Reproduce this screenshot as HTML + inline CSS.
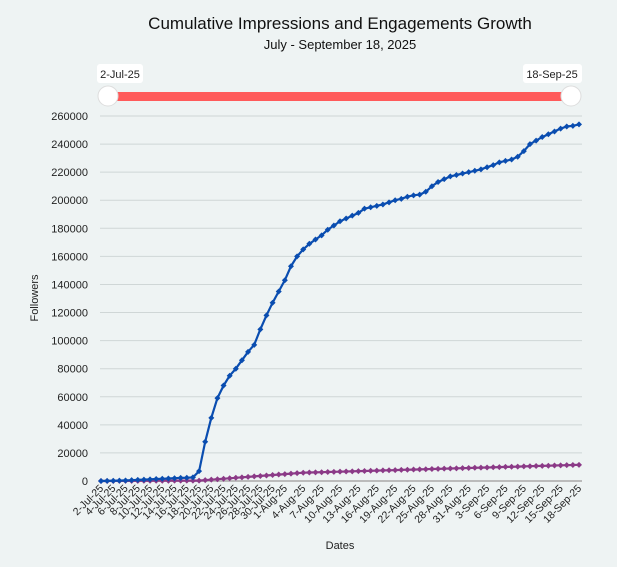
<!DOCTYPE html>
<html><head><meta charset="utf-8"><style>
body{margin:0;background:#eef3f3;font-family:"Liberation Sans",sans-serif;}
svg{display:block}
</style></head><body>
<svg id="s" width="617" height="567" xmlns="http://www.w3.org/2000/svg">
<rect width="617" height="567" fill="#eef3f3"/>
<text x="340" y="29" font-size="17" text-anchor="middle" fill="#111">Cumulative Impressions and Engagements Growth</text>
<text x="340" y="49" font-size="13" text-anchor="middle" fill="#111">July - September 18, 2025</text>
<rect x="97" y="64" width="46" height="19" rx="3" fill="#fff"/>
<text x="120" y="78" font-size="11" text-anchor="middle" fill="#222">2-Jul-25</text>
<rect x="523" y="64" width="59" height="19" rx="3" fill="#fff"/>
<text x="552" y="78" font-size="11" text-anchor="middle" fill="#222">18-Sep-25</text>
<rect x="108" y="92" width="462" height="9" fill="#ff5a5a"/>
<circle cx="108" cy="96" r="10" fill="#fff" stroke="#ddd"/>
<circle cx="571" cy="96" r="10" fill="#fff" stroke="#ddd"/>
<g id="g"></g>
<text x="340" y="549" font-size="11" text-anchor="middle" fill="#222">Dates</text>
<text transform="translate(38,298) rotate(-90)" font-size="11" text-anchor="middle" fill="#222">Followers</text>
</svg>
<script>
var g=document.getElementById('g'),h='';
var X0=101,X1=579,Y0=481,PY=365/260000;
function y(v){return Y0-v*PY}
function x(i){return X0+i*(X1-X0)/78}
for(var v=0;v<=260000;v+=20000){var yy=y(v);
h+='<line x1="100" x2="582" y1="'+yy+'" y2="'+yy+'" stroke="'+(v?'#cfd6d6':'#bbb')+'" stroke-width="'+(v?1:2)+'"/>';
h+='<text x="88" y="'+(yy+4)+'" font-size="11" text-anchor="end" fill="#222">'+v+'</text>';}
var B=[0,100,200,300,400,600,800,1000,1200,1400,1600,1800,2000,2200,2300,2600,7000,28000,45000,59000,68000,75000,80000,86000,92000,97000,108000,118000,127000,135000,143000,153000,160000,165000,169000,172000,175000,179000,182000,185000,187000,189000,191000,194000,195000,196000,197000,198500,200000,201000,202500,203500,204000,206000,210000,213000,215000,217000,218000,219000,220000,221000,222000,223500,225000,227000,228000,229000,231000,235000,240000,242500,245000,247000,249000,251000,252500,253000,254000];
var P=[];for(var i=0;i<79;i++){var v;if(i<16)v=i*20;else if(i<33)v=300+(i-16)*330;else v=5900+(i-33)*125;P.push(v)}
function line(d,c){var pts=d.map(function(v,i){return x(i).toFixed(1)+','+y(v).toFixed(1)}).join(' ');
h+='<polyline points="'+pts+'" fill="none" stroke="'+c+'" stroke-width="2.2"/>';
d.forEach(function(v,i){var a=x(i),b=y(v);h+='<path d="M'+(a-3)+' '+b+'L'+a+' '+(b-3)+'L'+(a+3)+' '+b+'L'+a+' '+(b+3)+'Z" fill="'+c+'"/>'});}
line(P,'#8b3a87');line(B,'#0a4db0');
var M=['Jul','Aug','Sep'];
function lab(i,t){var a=x(i);h+='<text transform="translate('+(a+3)+',489) rotate(-45)" font-size="10.5" text-anchor="end" fill="#222">'+t+'</text>';}
for(var d=2;d<=30;d+=2)lab(d-2,d+'-Jul-25');
for(var d=1;d<=31;d+=3)lab(29+d,d+'-Aug-25');
for(var d=3;d<=18;d+=3)lab(60+d,d+'-Sep-25');
g.innerHTML=h;
</script>
</body></html>
